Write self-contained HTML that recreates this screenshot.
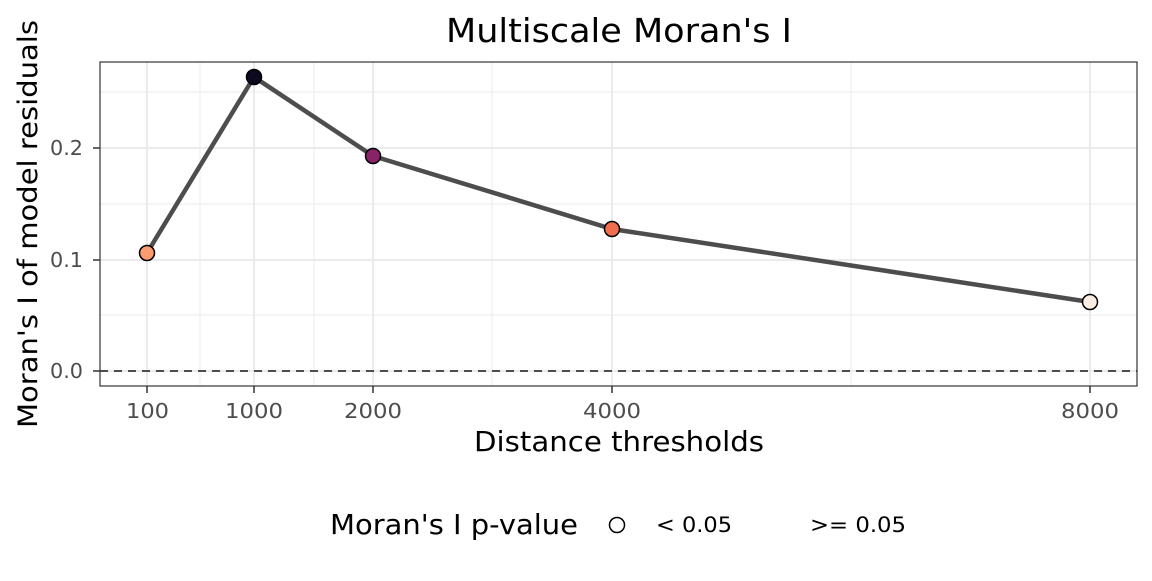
<!DOCTYPE html>
<html><head><style>body{margin:0;background:#fff}</style></head><body>
<svg width="1152" height="576" xmlns="http://www.w3.org/2000/svg" font-family="DejaVu Sans, sans-serif">
<rect width="1152" height="576" fill="#fff"/>
<g stroke="#ebebeb" stroke-width="1">
<line x1="100" x2="1137" y1="315" y2="315"/><line x1="100" x2="1137" y1="204" y2="204"/><line x1="100" x2="1137" y1="92" y2="92"/>
<line x1="200" x2="200" y1="62" y2="386"/><line x1="314" x2="314" y1="62" y2="386"/><line x1="492" x2="492" y1="62" y2="386"/><line x1="851" x2="851" y1="62" y2="386"/>
</g>
<g stroke="#ebebeb" stroke-width="2">
<line x1="100" x2="1137" y1="371" y2="371"/><line x1="100" x2="1137" y1="260" y2="260"/><line x1="100" x2="1137" y1="148" y2="148"/>
<line x1="147" x2="147" y1="62" y2="386"/><line x1="254" x2="254" y1="62" y2="386"/><line x1="373" x2="373" y1="62" y2="386"/><line x1="612" x2="612" y1="62" y2="386"/><line x1="1090" x2="1090" y1="62" y2="386"/>
</g>
<line x1="100" x2="1137" y1="371" y2="371" stroke="#4d4d4d" stroke-width="2" stroke-dasharray="8,6"/>
<polyline points="147,253 254,77 373,156 612,229 1090,302" fill="none" stroke="#4d4d4d" stroke-width="4.5"/>
<g stroke="#000" stroke-width="1.5">
<circle cx="147" cy="253" r="7.5" fill="#FB9B70"/>
<circle cx="254" cy="77" r="7.5" fill="#0B0A1F"/>
<circle cx="373" cy="156" r="7.5" fill="#8A2269"/>
<circle cx="612" cy="229" r="7.5" fill="#F06E4E"/>
<circle cx="1090" cy="302" r="7.5" fill="#FCEDE2"/>
</g>
<rect x="100" y="62" width="1037" height="324" fill="none" stroke="#333" stroke-width="1.2"/>
<g fill="#4d4d4d" font-size="20">
<text x="50" y="378" textLength="33" lengthAdjust="spacingAndGlyphs">0.0</text><text x="50" y="267" textLength="33" lengthAdjust="spacingAndGlyphs">0.1</text><text x="50" y="155" textLength="33" lengthAdjust="spacingAndGlyphs">0.2</text>
</g>
<g stroke="#333" stroke-width="1.5">
<line x1="93" x2="100" y1="371" y2="371"/><line x1="93" x2="100" y1="260" y2="260"/><line x1="93" x2="100" y1="148" y2="148"/>
<line x1="147" x2="147" y1="386" y2="393"/><line x1="254" x2="254" y1="386" y2="393"/><line x1="373" x2="373" y1="386" y2="393"/><line x1="612" x2="612" y1="386" y2="393"/><line x1="1090" x2="1090" y1="386" y2="393"/>
</g>
<g fill="#4d4d4d" font-size="20">
<text x="126" y="418" textLength="43" lengthAdjust="spacingAndGlyphs">100</text>
<text x="225" y="418" textLength="58" lengthAdjust="spacingAndGlyphs">1000</text>
<text x="344" y="418" textLength="58" lengthAdjust="spacingAndGlyphs">2000</text>
<text x="583" y="418" textLength="58" lengthAdjust="spacingAndGlyphs">4000</text>
<text x="1061" y="418" textLength="58" lengthAdjust="spacingAndGlyphs">8000</text>
</g>
<text x="474" y="451" font-size="28" textLength="290" lengthAdjust="spacingAndGlyphs">Distance thresholds</text>
<text x="-428" y="37" transform="rotate(-90)" font-size="27" textLength="408" lengthAdjust="spacingAndGlyphs">Moran's I of model residuals</text>
<text x="446" y="42" font-size="33" textLength="346" lengthAdjust="spacingAndGlyphs">Multiscale Moran's I</text>
<text x="330" y="534" font-size="28" textLength="248" lengthAdjust="spacingAndGlyphs">Moran's I p-value</text>
<circle cx="617" cy="525" r="7.5" fill="#fff" stroke="#000" stroke-width="1.5"/>
<text x="656" y="532" font-size="21" textLength="76" lengthAdjust="spacingAndGlyphs">&lt; 0.05</text>
<text x="810" y="532" font-size="21" textLength="96" lengthAdjust="spacingAndGlyphs">&gt;= 0.05</text>
</svg>
</body></html>
